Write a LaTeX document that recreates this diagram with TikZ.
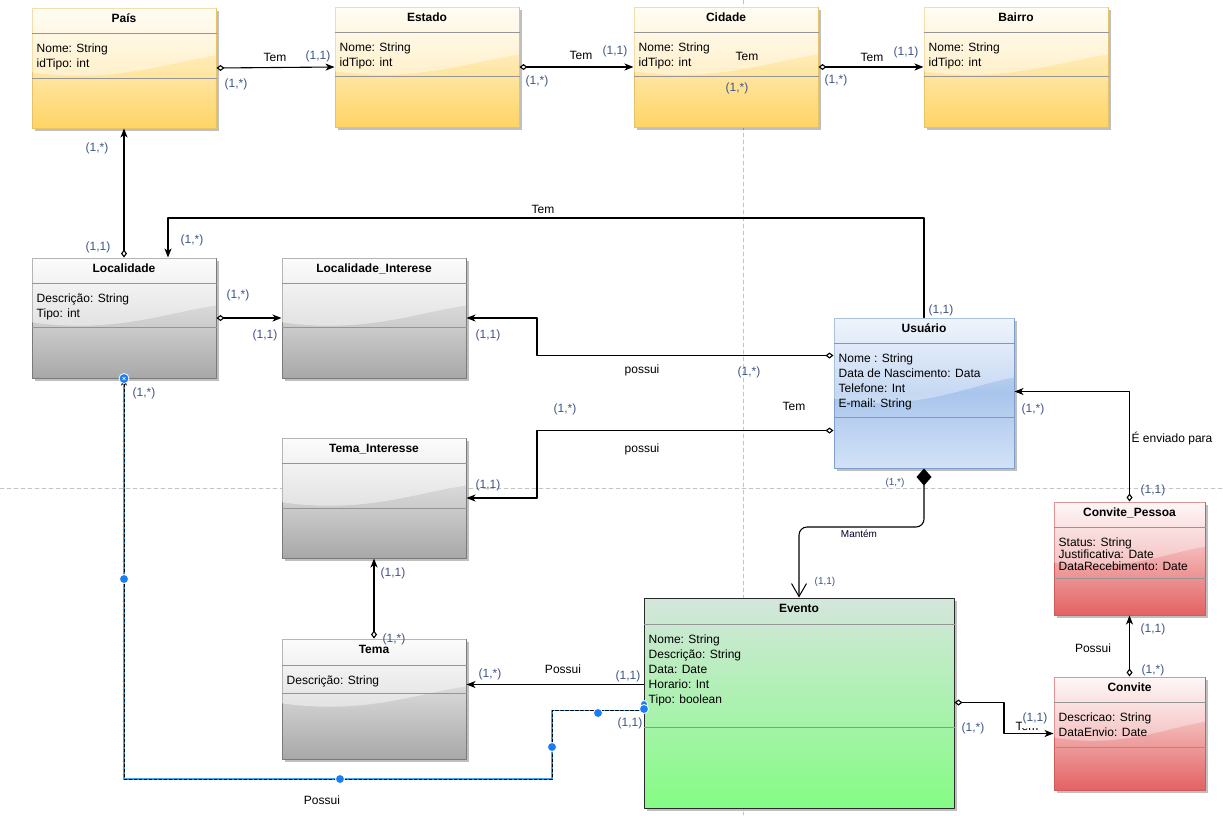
\documentclass[tikz,border=0pt]{standalone}
\usepackage{fontspec}
\setmainfont{Liberation Sans}
\usetikzlibrary{arrows.meta,shadows}

\definecolor{yelTop}{HTML}{FFFBEC}
\definecolor{yelBot}{HTML}{FFD466}
\definecolor{yelLine}{HTML}{E8C266}
\definecolor{grayTop}{HTML}{FAFAFA}
\definecolor{grayBot}{HTML}{A8A8A8}
\definecolor{grayLine}{HTML}{7A7A7A}
\definecolor{bluTop}{HTML}{E6EFFB}
\definecolor{bluMid}{HTML}{A9C5EC}
\definecolor{bluBot}{HTML}{D2E2F7}
\definecolor{bluLine}{HTML}{7F9FCB}
\definecolor{grnTop}{HTML}{D4E6DC}
\definecolor{grnBot}{HTML}{84FC84}
\definecolor{grnLine}{HTML}{2A2A2A}
\definecolor{redTop}{HTML}{FFF3F3}
\definecolor{redBot}{HTML}{E36262}
\definecolor{redLine}{HTML}{CF5B5B}
\definecolor{divLine}{HTML}{959595}
\definecolor{multText}{HTML}{3D5585}
\definecolor{guide}{HTML}{C4C4C4}
\definecolor{handle}{HTML}{1C7CF2}
\definecolor{depBlue}{HTML}{3BA6F2}

% 类框：名字, 配色, 中心, 宽, 高, 标题, 分隔线1, 分隔线2, 属性
\newcommand{\umlbox}[9]{%
  \node[classbox,#2,minimum width=#4pt,minimum height=#5pt] (#1) at #3 {};
  \fill[#2gloss] ([shift={(0.6pt,-0.6pt)}]#1.north west) -- ([shift={(0.6pt,-0.54*#5pt)}]#1.north west)
    .. controls ([shift={(0.45*#4pt,-0.64*#5pt)}]#1.north west) and ([shift={(-0.25*#4pt,-0.45*#5pt)}]#1.north east)
    .. ([shift={(-0.6pt,-0.40*#5pt)}]#1.north east) -- ([shift={(-0.6pt,-0.6pt)}]#1.north east) -- cycle;
  \node[classtitle] (#1-t) at ([yshift=-15pt]#1.north) {#6};
  \draw[classdiv] ([yshift=-#7pt]#1.north west) -- ([yshift=-#7pt]#1.north east);
  \draw[classdiv] ([yshift=-#8pt]#1.north west) -- ([yshift=-#8pt]#1.north east);
  \node[classattr] (#1-a) at ([shift={(5pt,-#7pt-10pt)}]#1.north west) {#9};
}

\begin{document}
\begin{tikzpicture}[x=1pt, y=-1pt, line cap=round, line join=round,
  classbox/.style={rectangle, line width=1pt, inner sep=0pt,
    drop shadow={shadow xshift=3pt, shadow yshift=-3pt, opacity=0.25, fill=black}},
  yelbox/.style={draw=yelLine, top color=yelTop, bottom color=yelBot},
  graybox/.style={draw=grayLine, top color=grayTop, bottom color=grayBot},
  blubox/.style={draw=bluLine, top color=bluTop, bottom color=bluBot, middle color=bluMid},
  grnbox/.style={draw=grnLine, top color=grnTop, bottom color=grnBot},
  redbox/.style={draw=redLine, top color=redTop, bottom color=redBot},
  yelboxgloss/.style={fill=white, fill opacity=0.45},
  grayboxgloss/.style={fill=white, fill opacity=0.45},
  bluboxgloss/.style={fill=white, fill opacity=0.35},
  grnboxgloss/.style={fill=none},
  redboxgloss/.style={fill=white, fill opacity=0.35},
  classtitle/.style={anchor=base, inner sep=0pt, font=\bfseries\fontsize{12}{14}\selectfont},
  classattr/.style={anchor=north west, inner sep=0pt, align=left, font=\fontsize{12}{15}\selectfont},
  classdiv/.style={draw=divLine, line width=1.3pt, line cap=butt},
  assoc/.style={draw=black, line width=1.1pt,
    {Diamond[open,length=8pt,width=6pt]}-{Stealth[length=9pt,width=7pt,inset=2.5pt]}},
  plainassoc/.style={draw=black, line width=1.1pt, -{Stealth[length=9pt,width=7pt,inset=2.5pt]}},
  compo/.style={draw=black, line width=1.1pt, rounded corners=8pt,
    {Diamond[length=17pt,width=15pt]}-{Straight Barb[length=13pt,width=15pt,line width=1pt]}},
  dep/.style={draw=black, line width=0.9pt, dash pattern=on 3pt off 2pt,
    preaction={draw=depBlue, line width=1.8pt, solid, -},
    -{Stealth[length=7pt,width=6pt,inset=2pt]}},
  hdl/.style={fill=handle, draw=white, line width=0.8pt},
  lbl/.style={inner sep=0pt, font=\fontsize{12}{14}\selectfont},
  mult/.style={inner sep=0pt, text=multText, font=\fontsize{12}{14}\selectfont},
  small/.style={inner sep=0pt, text=multText, font=\fontsize{10}{12}\selectfont}]

  %% ════ 背景 / 分页参考线 ════
  \fill[white] (0,0) rectangle (1223,815);
  \draw[guide, line width=0.8pt, dash pattern=on 4pt off 3pt] (743,0) -- (743,815);
  \draw[guide, line width=0.8pt, dash pattern=on 4pt off 3pt] (0,488) -- (1223,488);

  %% ════ 类框 ════
  \umlbox{pais}{yelbox}{(124,68)}{184}{120}{País}{26}{71}{Nome: String\\idTipo: int}
  \umlbox{estado}{yelbox}{(427,67)}{184}{120}{Estado}{26}{70}{Nome: String\\idTipo: int}
  \umlbox{cidade}{yelbox}{(726,67)}{184}{120}{Cidade}{26}{70}{Nome: String\\idTipo: int}
  \umlbox{bairro}{yelbox}{(1016,67)}{184}{120}{Bairro}{26}{70}{Nome: String\\idTipo: int}
  \umlbox{localidade}{graybox}{(124,318)}{184}{120}{Localidade}{26}{70}{Descrição: String\\Tipo: int}
  \umlbox{locint}{graybox}{(374,318)}{184}{120}{Localidade\_Interese}{26}{70}{}
  \umlbox{usuario}{blubox}{(924,393)}{180}{150}{Usuário}{26}{100}{Nome : String\\Data de Nascimento: Data\\Telefone: Int\\E-mail: String}
  \umlbox{temaint}{graybox}{(374,498)}{184}{120}{Tema\_Interesse}{26}{71}{}
  \umlbox{tema}{graybox}{(374,699)}{184}{120}{Tema}{27}{55}{Descrição: String}
  \umlbox{evento}{grnbox}{(799,703)}{310}{210}{Evento}{27}{130}{Nome: String\\Descrição: String\\Data: Date\\Horario: Int\\Tipo: boolean}
  \umlbox{convpes}{redbox}{(1129.5,558.5)}{151}{113}{Convite\_Pessoa}{26}{77}{Status: String\\[-3pt]Justificativa: Date\\[-3pt]DataRecebimento: Date}
  \umlbox{convite}{redbox}{(1129.5,733.5)}{151}{113}{Convite}{26}{71}{Descricao: String\\DataEnvio: Date}

  %% ════ 端口 / 折点 ════
  \coordinate (usrL1) at ([yshift=-38pt]usuario.north west);
  \coordinate (usrL2) at ([yshift=-113pt]usuario.north west);
  \coordinate (usrR)  at ([yshift=-74pt]usuario.north east);
  \coordinate (evL1)  at ([yshift=-87pt]evento.north west);
  \coordinate (evL2)  at ([yshift=-113pt]evento.north west);
  \coordinate (evR)   at ([yshift=-105pt]evento.north east);
  \coordinate (temBend)  at (168,218);
  \coordinate (possX)    at (537,400);
  \coordinate (mantBend) at (799,527);
  \coordinate (temX)     at (1004,700);
  \coordinate (possCorner) at (552,779);

  %% ════ 连线 ════
  \draw[assoc] (pais.east) -- (estado.west);
  \draw[assoc] (estado.east) -- (cidade.west);
  \draw[assoc] (cidade.east) -- (bairro.west);
  \draw[assoc] (localidade.north) -- (pais.south);
  \draw[plainassoc] (usuario.north) |- (temBend) -- (temBend |- localidade.north);
  \draw[assoc] (localidade.east) -- (locint.west);
  \draw[assoc] (usrL1) -- (usrL1 -| possX) |- (locint.east);
  \draw[assoc] (usrL2) -- (usrL2 -| possX) |- (temaint.east);
  \draw[assoc] (tema.north) -- (temaint.south);
  \draw[plainassoc] (evL1) -- (evL1 -| tema.east);
  \draw[compo] (usuario.south) |- (mantBend) -- (evento.north);
  \draw[assoc] (convpes.north) |- (usrR);
  \draw[assoc] (convite.north) -- (convpes.south);
  \draw[assoc] (evR) -- (evR -| temX) |- (convite.west);
  \draw[dep] (evL2) -| (possCorner) -| (localidade.south);

  %% ════ 选中连线的控制点 ════
  \filldraw[hdl] (localidade.south) circle (5);
  \draw[white, line width=0.6pt] ([shift={(-1.5pt,-1.5pt)}]localidade.south) -- ([shift={(1.5pt,1.5pt)}]localidade.south)
    ([shift={(-1.5pt,1.5pt)}]localidade.south) -- ([shift={(1.5pt,-1.5pt)}]localidade.south);
  \filldraw[hdl] (124,579) circle (4.5);
  \filldraw[hdl] (340,779) circle (4.5);
  \filldraw[hdl] (552,747) circle (4.5);
  \filldraw[hdl] (598,713) circle (4.5);
  \filldraw[hdl] (644,704) circle (3.5);
  \filldraw[hdl] (644,709) circle (4.5);

  %% ════ 标签 ════
  \node[lbl]  (t1) at (275,57) {Tem};
  \node[mult] (m1) at (318,56) {(1,1)};
  \node[mult] (m2) at (236,84) {(1,*)};
  \node[lbl]  (t2) at (581,55) {Tem};
  \node[mult] (m3) at (615,51) {(1,1)};
  \node[mult] (m4) at (537,81) {(1,*)};
  \node[lbl]  (t3) at (747,56) {Tem};          % 落在 Cidade 框内
  \node[mult] (m5) at (737,88) {(1,*)};
  \node[lbl]  (t4) at (872,57) {Tem};
  \node[mult] (m6) at (906,52) {(1,1)};
  \node[mult] (m7) at (836,80) {(1,*)};

  \node[mult] (m8)  at (97,148) {(1,*)};
  \node[mult] (m9)  at (98,247) {(1,1)};
  \node[lbl]  (t5)  at (543,209) {Tem};
  \node[mult] (m10) at (192,240) {(1,*)};
  \node[mult] (m11) at (941,310) {(1,1)};
  \node[mult] (m12) at (238,295) {(1,*)};
  \node[mult] (m13) at (265,335) {(1,1)};
  \node[mult] (m14) at (488,335) {(1,1)};
  \node[mult] (m15) at (144,393) {(1,*)};
  \node[lbl]  (t6)  at (642,370) {possui};
  \node[mult] (m16) at (749,372) {(1,*)};
  \node[mult] (m17) at (565,409) {(1,*)};
  \node[lbl]  (t7)  at (794,406) {Tem};
  \node[mult] (m18) at (1033,409) {(1,*)};
  \node[lbl]  (t8)  at (642,449) {possui};
  \node[lbl]  (t9)  at (1172,439) {É enviado para};
  \node[small](m19) at (895,483) {(1,*)};
  \node[mult] (m20) at (1153,490) {(1,1)};
  \node[mult] (m21) at (488,485) {(1,1)};

  \node[small,text=black!85!blue] (t10) at (859,534) {Mantém};
  \node[small](m22) at (825,582) {(1,1)};
  \node[mult] (m23) at (393,573) {(1,1)};
  \node[mult] (m24) at (394,639) {(1,*)};
  \node[lbl]  (t11) at (563,669) {Possui};
  \node[mult] (m25) at (490,674) {(1,*)};
  \node[mult] (m26) at (628,676) {(1,1)};
  \node[mult] (m27) at (630,723) {(1,1)};
  \node[lbl]  (t12) at (322,800) {Possui};
  \node[mult] (m28) at (973,728) {(1,*)};
  \node[lbl]  (t13) at (1027,726) {Tem};
  \node[mult,fill=white,inner ysep=4pt,inner xsep=0.5pt] (m29) at (1035,718) {(1,1)};  % 盖住了 Tem
  \node[lbl]  (t14) at (1093,648) {Possui};
  \node[mult] (m30) at (1153,629) {(1,1)};
  \node[mult] (m31) at (1153,670) {(1,*)};

  % 钉死画布
  \pgfresetboundingbox
  \path[use as bounding box] (0,0) rectangle (1223,815);
\end{tikzpicture}
\end{document}
